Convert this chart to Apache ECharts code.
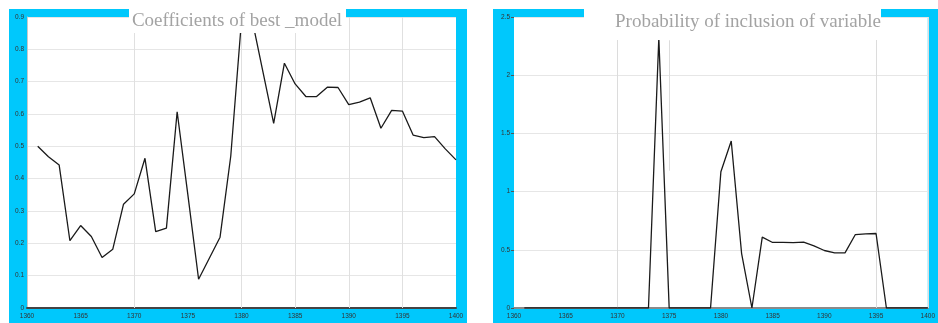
<!DOCTYPE html>
<html>
<head>
<meta charset="utf-8">
<script src="https://cdn.jsdelivr.net/npm/echarts@6/dist/echarts.min.js"></script>
<style>
  html, body { margin: 0; padding: 0; background: #ffffff; width: 938px; height: 323px; overflow: hidden; }
  .panel { position: absolute; background: #00c8fc; }
  #coefPanel { left: 9px; top: 9px; width: 458px; height: 314px; }
  #probPanel { left: 493px; top: 9px; width: 445px; height: 314px; }
</style>
</head>
<body>
<div id="coefPanel" class="panel"></div>
<div id="probPanel" class="panel"></div>
<script>
// Years of the study period
const years = [1361, 1362, 1363, 1364, 1365, 1366, 1367, 1368, 1369, 1370,
               1371, 1372, 1373, 1374, 1375, 1376, 1377, 1378, 1379, 1380,
               1381, 1382, 1383, 1384, 1385, 1386, 1387, 1388, 1389, 1390,
               1391, 1392, 1393, 1394, 1395, 1396, 1397, 1398, 1399, 1400];

// Coefficients of the best model, one per year
const coefValues = [0.500, 0.468, 0.442, 0.208, 0.255, 0.221, 0.156, 0.182, 0.321, 0.353,
                    0.463, 0.236, 0.247, 0.607, 0.350, 0.089, 0.154, 0.219, 0.470, 0.890,
                    0.890, 0.730, 0.571, 0.757, 0.693, 0.654, 0.654, 0.683, 0.682, 0.629,
                    0.637, 0.650, 0.556, 0.611, 0.609, 0.535, 0.527, 0.530, 0.492, 0.458];

// Probability of inclusion of the variable, one per year
const probValues = [0, 0, 0, 0, 0, 0, 0, 0, 0, 0,
                    0, 0, 0, 2.32, 0, 0, 0, 0, 0, 1.17,
                    1.435, 0.47, 0, 0.609, 0.563, 0.563, 0.562, 0.566, 0.534, 0.494,
                    0.474, 0.474, 0.631, 0.637, 0.640, 0, 0, 0, 0, 0];

// Axis ticks
const yearTicks = [1360, 1365, 1370, 1375, 1380, 1385, 1390, 1395, 1400];
const coefTicks = [0, 0.1, 0.2, 0.3, 0.4, 0.5, 0.6, 0.7, 0.8, 0.9];
const probTicks = [0, 0.5, 1, 1.5, 2, 2.5];

// Vertical grid lines that are drawn in each panel
const coefYearLines = [1370, 1380, 1385, 1390, 1395];
const probYearLines = [1370, 1395, 1400];

const coefTitle = 'Coefficients of best _model';
const probTitle = 'Probability of inclusion of variable';

const tickFont = { fontFamily: 'Liberation Sans', fontSize: 6.5, color: '#333333' };
const titleFont = '19px "Liberation Serif"';
const titleColor = '#a3a3a3';
const gridColor = '#e6e6e6';

function pairs(xs, ys) {
  return xs.map((x, i) => [x, ys[i]]);
}

function xAxisFor(lineColor) {
  return {
    type: 'value',
    min: yearTicks[0],
    max: yearTicks[yearTicks.length - 1],
    interval: yearTicks[1] - yearTicks[0],
    axisLine: { show: true, onZero: false, lineStyle: { color: lineColor, width: 2 } },
    axisTick: { show: false },
    splitLine: { show: false },
    axisLabel: Object.assign({
      margin: 5, showMinLabel: true, showMaxLabel: true,
      formatter: v => String(v)
    }, tickFont)
  };
}

function verticalLines(list) {
  return list.map(v => ({ xAxis: v }));
}

// ---- Coefficients panel ----
const coefChart = echarts.init(document.getElementById('coefPanel'), null, { renderer: 'canvas' });
coefChart.setOption({
  animation: false,
  grid: { left: 18, top: 8, width: 429, height: 291, show: true, backgroundColor: '#ffffff', borderWidth: 0 },
  xAxis: xAxisFor('#444444'),
  yAxis: {
    type: 'value',
    min: coefTicks[0],
    max: coefTicks[coefTicks.length - 1],
    interval: coefTicks[1] - coefTicks[0],
    axisLine: { show: true, lineStyle: { color: '#c8c8c8', width: 1 } },
    axisTick: { show: false },
    splitLine: { show: true, lineStyle: { color: gridColor, width: 1 } },
    axisLabel: Object.assign({ margin: 3, formatter: v => String(v) }, tickFont)
  },
  series: [{
    type: 'line',
    data: pairs(years, coefValues),
    showSymbol: false,
    z: 3,
    lineStyle: { color: '#1a1a1a', width: 1.3 },
    markLine: {
      silent: true,
      symbol: 'none',
      z: 1,
      label: { show: false },
      lineStyle: { color: '#e0e0e0', type: 'solid', width: 1 },
      emphasis: { disabled: true },
      data: verticalLines(coefYearLines)
    }
  }],
  graphic: [
    { type: 'rect', z: 100, shape: { x: 120, y: 0, width: 217, height: 24 }, style: { fill: '#ffffff' } },
    { type: 'text', z: 101, x: 228, y: 12,
      style: { text: coefTitle, font: titleFont, fill: titleColor, align: 'center', verticalAlign: 'middle' } }
  ]
});

// ---- Inclusion probability panel ----
const probChart = echarts.init(document.getElementById('probPanel'), null, { renderer: 'canvas' });
probChart.setOption({
  animation: false,
  grid: { left: 21, top: 8, width: 421, height: 291, show: true, backgroundColor: '#ffffff', borderWidth: 0 },
  xAxis: xAxisFor('#8a8a8a'),
  yAxis: {
    type: 'value',
    min: probTicks[0],
    max: probTicks[probTicks.length - 1],
    interval: probTicks[1] - probTicks[0],
    axisLine: { show: false },
    axisTick: { show: true, inside: false, length: 3, lineStyle: { color: '#555555', width: 1 } },
    splitLine: { show: true, lineStyle: { color: gridColor, width: 1 } },
    axisLabel: Object.assign({ margin: 4, formatter: v => String(v) }, tickFont)
  },
  series: [{
    type: 'line',
    data: pairs(years, probValues),
    showSymbol: false,
    z: 3,
    lineStyle: { color: '#1a1a1a', width: 1.3 },
    markLine: {
      silent: true,
      symbol: 'none',
      z: 1,
      label: { show: false },
      lineStyle: { color: '#dcdcdc', type: 'solid', width: 1 },
      emphasis: { disabled: true },
      data: verticalLines(probYearLines).concat([
        [{ coord: [1375, 2.3] }, { coord: [1375, 1.18] }]
      ])
    }
  }],
  graphic: [
    { type: 'rect', z: 100, shape: { x: 91, y: 0, width: 297, height: 31 }, style: { fill: '#ffffff' } },
    { type: 'text', z: 101, x: 255, y: 13,
      style: { text: probTitle, font: titleFont, fill: titleColor, align: 'center', verticalAlign: 'middle' } }
  ]
});
</script>
</body>
</html>
